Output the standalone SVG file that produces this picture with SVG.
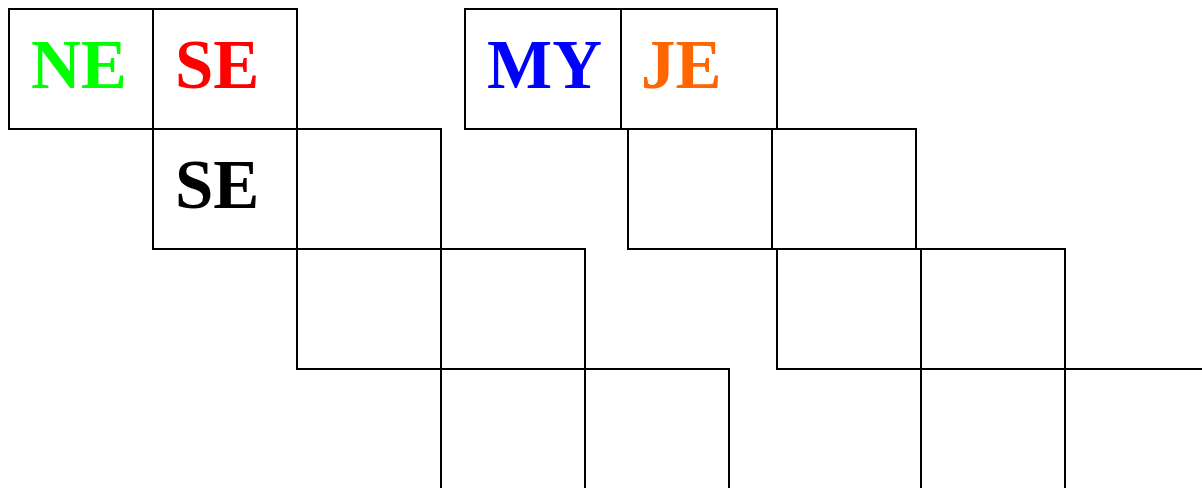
<svg xmlns="http://www.w3.org/2000/svg" width="1202" height="488" viewBox="0 0 1202 488">
<style>
.b{fill:none;stroke:#000;stroke-width:2}
.t{font-family:"Liberation Serif","Times New Roman",serif;font-weight:bold;font-size:69px}
</style>
<rect width="1202" height="488" fill="#fff"/>
<g id="ne"><rect class="b" x="9" y="9" width="144" height="120"/><text class="t" x="31" y="88" fill="#00ff00">NE</text></g>
<g id="se1"><rect class="b" x="153" y="9" width="144" height="120"/><text class="t" x="175" y="88" fill="#ff0000">SE</text></g>
<g id="se2"><rect class="b" x="153" y="129" width="144" height="120"/><text class="t" x="175" y="208" fill="#000">SE</text></g>
<g id="l22"><rect class="b" x="297" y="129" width="144" height="120"/></g>
<g id="l31"><rect class="b" x="297" y="249" width="144" height="120"/></g>
<g id="l32"><rect class="b" x="441" y="249" width="144" height="120"/></g>
<g id="l41"><rect class="b" x="441" y="369" width="144" height="140"/></g>
<g id="l42"><rect class="b" x="585" y="369" width="144" height="140"/></g>
<g id="my"><rect class="b" x="465" y="9" width="156" height="120"/><text class="t" x="487" y="88" fill="#0000ff">MY</text></g>
<g id="je"><rect class="b" x="621" y="9" width="156" height="120"/><text class="t" x="641" y="88" fill="#ff6600">JE</text></g>
<g id="r21"><rect class="b" x="628" y="129" width="144" height="120"/></g>
<g id="r22"><rect class="b" x="772" y="129" width="144" height="120"/></g>
<g id="r31"><rect class="b" x="777" y="249" width="144" height="120"/></g>
<g id="r32"><rect class="b" x="921" y="249" width="144" height="120"/></g>
<g id="r41"><rect class="b" x="921" y="369" width="144" height="140"/></g>
<g id="r42"><rect class="b" x="1065" y="369" width="160" height="140"/></g>
<g id="connectors"></g>
</svg>
